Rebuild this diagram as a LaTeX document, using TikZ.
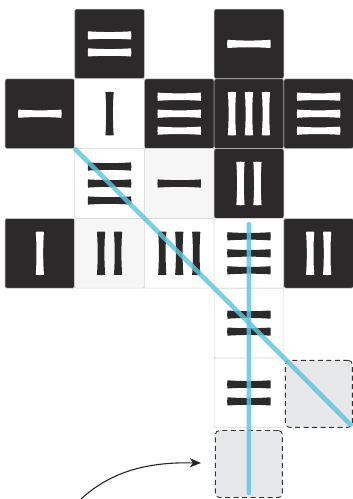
\documentclass[tikz,border=0pt]{standalone}
\usetikzlibrary{arrows.meta}
\definecolor{cellDark}{HTML}{2B292A}
\definecolor{cellLight}{HTML}{F6F6F6}
\definecolor{emptyFill}{HTML}{E6E7E9}
\definecolor{lineBlue}{HTML}{5CC4E4}
\tikzset{
  cellbase/.style={rectangle, minimum size=69.7pt, inner sep=0pt, rounded corners=2pt, line width=0.6pt},
  darkcell/.style={cellbase, fill=cellDark, draw=gray!45},
  whitecell/.style={cellbase, fill=white, draw=gray!30},
  greycell/.style={cellbase, fill=cellLight, draw=gray!30},
  emptycell/.style={rectangle, minimum size=67pt, inner sep=0pt, rounded corners=4pt, fill=emptyFill, draw=black!80, line width=0.9pt, dash pattern=on 5pt off 3.5pt},
  blueline/.style={draw=lineBlue, line width=4.6pt, opacity=0.82, line cap=round},
  arrowline/.style={draw=black!85, line width=1.1pt, -{Stealth[length=11pt,width=9pt,inset=3pt]}},
  pics/bars/.style n args={2}{code={
    \foreach \k in {1,...,#1}{
      \pgfmathsetmacro\off{17*(\k-(#1+1)/2)}
      \fill[#2,shift={(0,\off)}] (-21.5,-4.1) .. controls (-7,-3.1) and (7,-3.1) .. (21.5,-4.1)
        -- (21.8,0) -- (21.5,4.1) .. controls (7,3.1) and (-7,3.1) .. (-21.5,4.1) -- (-21.8,0) -- cycle;
    }
  }},
}
\begin{document}
\begin{tikzpicture}[x=1pt,y=-1pt]
\useasboundingbox (0,0) rectangle (353,499);
% row 0
\node[darkcell] (c01) at (109.55,43.9) {};
\node[darkcell] (c03) at (248.95,43.9) {};
% row 1
\node[darkcell] (c10) at (39.85,113.7) {};
\node[whitecell] (c11) at (109.55,113.7) {};
\node[darkcell] (c12) at (179.25,113.7) {};
\node[darkcell] (c13) at (248.95,113.7) {};
\node[darkcell] (c14) at (318.65,113.7) {};
% row 2
\node[whitecell] (c21) at (109.55,183.5) {};
\node[greycell] (c22) at (179.25,183.5) {};
\node[darkcell] (c23) at (248.95,183.5) {};
% row 3
\node[darkcell] (c30) at (39.85,253.3) {};
\node[greycell] (c31) at (109.55,253.3) {};
\node[whitecell] (c32) at (179.25,253.3) {};
\node[whitecell] (c33) at (248.95,253.3) {};
\node[darkcell] (c34) at (318.65,253.3) {};
% rows 4-6
\node[whitecell] (c43) at (248.95,323.1) {};
\node[whitecell] (c53) at (248.95,392.9) {};
\node[emptycell] (e54) at (318.8,393.8) {};
\node[emptycell] (e63) at (248.9,464) {};
% glyphs
\pic at (c01) {bars={2}{white}};
\pic at (c03) {bars={1}{white}};
\pic at (c10) {bars={1}{white}};
\pic[rotate=90] at (c11) {bars={1}{cellDark}};
\pic at (c12) {bars={3}{white}};
\pic[rotate=90] at (c13) {bars={3}{white}};
\pic at (c14) {bars={3}{white}};
\pic at (c21) {bars={3}{cellDark}};
\pic at (c22) {bars={1}{cellDark}};
\pic[rotate=90] at (c23) {bars={2}{white}};
\pic[rotate=90] at (c30) {bars={1}{white}};
\pic[rotate=90] at (c31) {bars={2}{cellDark}};
\pic[rotate=90] at (c32) {bars={3}{cellDark}};
\pic at (c33) {bars={3}{cellDark}};
\pic[rotate=90] at (c34) {bars={2}{white}};
\pic at (c43) {bars={2}{cellDark}};
\pic at (c53) {bars={2}{cellDark}};
% blue lines
\draw[blueline] ([shift={(1pt,-1pt)}]c21.north west) -- ([shift={(-2pt,3pt)}]e54.south east);
\draw[blueline] ([yshift=-6pt]c33.north) -- ([yshift=5pt]e63.south);
% arrow
\coordinate (as) at (80,500);
\draw[arrowline] (as) .. controls (112,470) and (150,462) .. ([xshift=-14pt,yshift=1pt]e63.west);
\end{tikzpicture}
\end{document}
